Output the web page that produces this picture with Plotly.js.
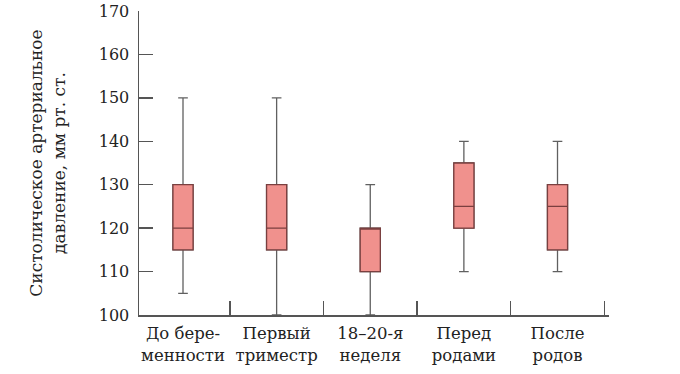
<!DOCTYPE html>
<html>
<head>
<meta charset="utf-8">
<script src="https://cdn.plot.ly/plotly-3.0.1.min.js"></script>
<style>html,body{margin:0;padding:0;background:#fff;}#chart{width:680px;height:374px;}</style>
</head>
<body>
<div id="chart"></div>
<script>
// Data
const categories = ["До бере-<br>менности", "Первый<br>триместр", "18–20-я<br>неделя", "Перед<br>родами", "После<br>родов"];
const positions = [0, 1, 2, 3, 4];
const lowerWhisker = [105, 100, 100, 110, 110];
const q1Values = [115, 115, 110, 120, 115];
const medianValues = [120, 120, 120, 125, 125];
const q3Values = [130, 130, 120, 135, 130];
const upperWhisker = [150, 150, 130, 140, 140];
const yTicks = [100, 110, 120, 130, 140, 150, 160, 170];

const serif = "DejaVu Serif";
const axisColor = "#555555";
const textColor = "#222222";

// grey whiskers (full box with fences)
const whiskers = {
  type: "box",
  x: positions,
  q1: q1Values,
  median: medianValues,
  q3: q3Values,
  lowerfence: lowerWhisker,
  upperfence: upperWhisker,
  width: 0.215,
  whiskerwidth: 0.48,
  fillcolor: "#f0918d",
  line: {color: "#606060", width: 1.3},
  boxpoints: false,
  hoverinfo: "skip",
  showlegend: false
};
// dark-red box body on top (same quartiles, no whiskers)
const bodies = {
  type: "box",
  x: positions,
  q1: q1Values,
  median: medianValues,
  q3: q3Values,
  lowerfence: q1Values,
  upperfence: q3Values,
  width: 0.215,
  whiskerwidth: 0,
  fillcolor: "#f0918d",
  line: {color: "#7a3f3f", width: 1.3},
  boxpoints: false,
  hoverinfo: "skip",
  showlegend: false
};

const layout = {
  width: 680,
  height: 374,
  margin: {l: 139, r: 71, t: 11, b: 59},
  boxmode: "overlay",
  paper_bgcolor: "#ffffff",
  plot_bgcolor: "#ffffff",
  font: {family: serif, size: 16, color: textColor},
  xaxis: {
    range: [-0.47, 4.55],
    tickmode: "array",
    tickvals: positions,
    ticktext: categories,
    ticks: "",
    showgrid: false,
    zeroline: false,
    showline: true,
    linecolor: axisColor,
    linewidth: 1.5,
    ticklabeloverflow: "allow",
    ticklabelstandoff: 3,
    tickfont: {family: serif, size: 16.5, color: textColor},
    minor: {tickmode: "linear", tick0: 0.5, dtick: 1, ticks: "inside", ticklen: 14, tickwidth: 1.5, tickcolor: axisColor, showgrid: false}
  },
  yaxis: {
    range: [100, 170],
    tickmode: "array",
    tickvals: yTicks,
    ticks: "inside",
    ticklen: 14,
    tickwidth: 1.5,
    tickcolor: axisColor,
    showgrid: false,
    zeroline: false,
    showline: true,
    linecolor: axisColor,
    linewidth: 1.5,
    ticklabeloverflow: "allow",
    ticklabelstandoff: 5,
    tickfont: {family: serif, size: 16, color: textColor},
    title: {text: "Систолическое артериальное<br>давление, мм рт. ст.", font: {family: serif, size: 17, color: textColor}, standoff: 29}
  }
};

Plotly.newPlot("chart", [whiskers, bodies], layout, {displayModeBar: false, staticPlot: true});
</script>
</body>
</html>
